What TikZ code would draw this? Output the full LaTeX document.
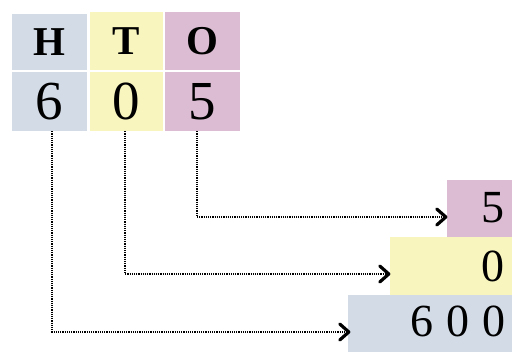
\documentclass[tikz,border=0pt]{standalone}
\usepackage{fontspec}
\setmainfont{Liberation Serif}
\definecolor{cblue}{HTML}{D3DBE6}
\definecolor{cyellow}{HTML}{F8F5BE}
\definecolor{cpink}{HTML}{DCBCD2}
\tikzset{
  cell/.style={fill=#1, inner sep=0pt, anchor=center},
  head/.style={font=\fontsize{41}{41}\selectfont\bfseries},
  digit/.style={font=\fontsize{55}{55}\selectfont},
  rdigit/.style={font=\fontsize{46}{46}\selectfont, anchor=east, inner sep=0pt},
  conn/.style={line width=1.7pt, dash pattern=on 1.2pt off 1pt},
  chevron/.style={line width=3.2pt, line cap=round, line join=round}
}
\begin{document}
\begin{tikzpicture}[x=1pt,y=-1pt]
\useasboundingbox (0,0) rectangle (523,357);
% top header row
\node[cell=cblue, minimum width=75pt, minimum height=56pt, head] (h) at (49.5,42) {H};
\node[cell=cyellow, minimum width=73pt, minimum height=58pt, head] (t) at (126.5,41) {T};
\node[cell=cpink, minimum width=75pt, minimum height=58pt, head] (o) at (202.5,41) {O};
% digit row
\node[cell=cblue, minimum width=75pt, minimum height=59pt, digit] (d6) at (49.5,101.5) {6};
\node[cell=cyellow, minimum width=73pt, minimum height=59pt, digit] (d0) at (126.5,101.5) {0};
\node[cell=cpink, minimum width=75pt, minimum height=59pt, digit] (d5) at (202.5,101.5) {5};
% right stacked boxes
\node[cell=cpink, minimum width=65pt, minimum height=57pt] (r5) at (479.5,208.5) {};
\node[cell=cyellow, minimum width=122pt, minimum height=58pt] (r0) at (451,266) {};
\node[cell=cblue, minimum width=164pt, minimum height=57pt] (r600) at (430,323.5) {};
\node[rdigit] (t5) at (505,208) {5};
\node[rdigit] (t0) at (505,266) {0};
\node[rdigit] (t600) at (506,321) {6\hspace{13pt}0\hspace{13pt}0};
% arrow targets
\coordinate (a600) at ([xshift=1pt,yshift=-8.5pt]r600.west);
\coordinate (a0) at ([xshift=-1pt,yshift=-8pt]r0.west);
\coordinate (a5) at ([xshift=-1pt,yshift=-8.5pt]r5.west);
% connectors
\draw[conn] ([xshift=2.5pt]d6.south) |- ([xshift=-3pt]a600);
\draw[conn] ([xshift=-1.5pt]d0.south) |- ([xshift=-3pt]a0);
\draw[conn] ([xshift=-5.5pt]d5.south) |- ([xshift=-3pt]a5);
% arrowheads
\draw[chevron] ([xshift=-9pt,yshift=-8pt]a600) -- (a600) -- ([xshift=-9pt,yshift=8pt]a600);
\draw[chevron] ([xshift=-9pt,yshift=-8pt]a0) -- (a0) -- ([xshift=-9pt,yshift=8pt]a0);
\draw[chevron] ([xshift=-9pt,yshift=-8pt]a5) -- (a5) -- ([xshift=-9pt,yshift=8pt]a5);
\end{tikzpicture}
\end{document}
